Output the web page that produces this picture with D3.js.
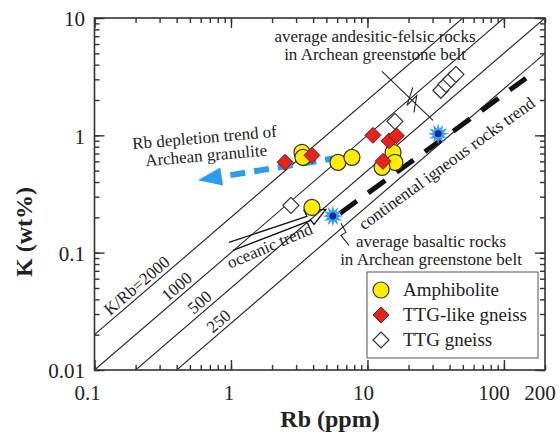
<!DOCTYPE html>
<html>
<head>
<meta charset="utf-8">
<script src="https://cdn.jsdelivr.net/npm/d3@7"></script>
<style>
body { margin: 0; background: #fff; }
text { font-family: "Liberation Serif", "Times New Roman", serif; fill: #222; }
</style>
</head>
<body>
<script>
// samples: Rb (ppm) and K (wt%)
var amphRb = [3.31, 3.37, 6.08, 7.70, 15.4, 15.9, 12.8, 3.92];
var amphK = [0.716, 0.649, 0.589, 0.649, 0.716, 0.589, 0.534, 0.243];
var ttgLikeRb = [2.49, 3.92, 10.97, 14.4, 16.3, 13.0];
var ttgLikeK = [0.589, 0.675, 1.0, 0.898, 0.99, 0.60];
var ttgRb = [2.75, 15.9, 34.5, 37.6, 40.9, 44.5];
var ttgK = [0.253, 1.316, 2.42, 2.72, 3.00, 3.31];
// average greenstone rocks: basaltic, andesitic-felsic
var avgRb = [5.58, 33.0];
var avgK = [0.205, 1.03];

// reference K/Rb ratios
var kRbRatios = [2000, 1000, 500, 250];
var kRbLabels = ["K/Rb=2000", "1000", "500", "250"];
var kRbLabelRb = [0.227, 0.445, 0.656, 0.904];

// trends
var contRb = [6.28, 145];
var contK = [0.216, 3.06];
var deplRb = [6.29, 0.573];
var deplK = [0.649, 0.4135];
var oceanRb = [0.967, 3.60, 3.43, 4.96, 4.06, 3.85, 1.034];
var oceanK = [0.1224, 0.204, 0.2294, 0.2339, 0.1743, 0.1886, 0.1047];
// leaders
var leadAndRb = [12.77, 30.2];
var leadAndK = [3.51, 1.343];
var zigRb = [21.5, 19.5, 23.0, 21.9];
var zigK = [2.566, 1.80, 2.19, 1.571];
var leadBasRb = [6.40, 6.96, 6.40, 7.32];
var leadBasK = [0.178, 0.149, 0.1404, 0.1154];

// axis labels
var xTickVals = [0.1, 1, 10, 100, 200];
var xTickText = ["0.1", "1", "10", "100", "200"];
var yTickVals = [0.01, 0.1, 1, 10];
var yTickText = ["0.01", "0.1", "1", "10"];

var legendNames = ["Amphibolite", "TTG-like gneiss", "TTG gneiss"];

var width = 560, height = 437;
var svg = d3.select("body").append("svg")
    .attr("width", width)
    .attr("height", height);

var x = d3.scaleLog().domain([0.1, 200]).range([94.5, 545]);
var y = d3.scaleLog().domain([0.01, 10]).range([370, 18]);

function pts(a, b) { return a.map(function(d, i){ return [d, b[i]]; }); }
var line = d3.line().x(function(d){ return x(d[0]); }).y(function(d){ return y(d[1]); });

svg.append("clipPath").attr("id", "plot")
    .append("rect")
    .attr("x", x.range()[0]).attr("y", y.range()[1])
    .attr("width", x.range()[1] - x.range()[0])
    .attr("height", y.range()[0] - y.range()[1]);

var plot = svg.append("g").attr("clip-path", "url(#plot)");

// K/Rb lines, K(wt%) = ratio * Rb / 10000
plot.selectAll(".ratio")
    .data(kRbRatios)
    .enter()
        .append("path")
        .attr("d", function(r){ return line([[0.1, r * 0.1 / 1e4], [200, r * 200 / 1e4]]); })
        .attr("fill", "none")
        .attr("stroke", "#222")
        .attr("stroke-width", 1.1);

// K/Rb labels along the lines
var ang = -Math.atan2(y(1) - y(10), x(10) - x(1)) * 180 / Math.PI;
svg.selectAll(".rlab")
    .data(kRbRatios)
    .enter()
        .append("text")
        .attr("transform", function(r, i){
            var rb = kRbLabelRb[i];
            return "translate(" + x(rb) + "," + y(r * rb / 1e4) + ") rotate(" + ang + ")";
        })
        .attr("y", -4)
        .attr("text-anchor", "middle")
        .attr("font-size", 17)
        .text(function(d, i){ return kRbLabels[i]; });

// continental igneous rocks trend
plot.append("path")
    .attr("d", line(pts(contRb, contK)))
    .attr("fill", "none")
    .attr("stroke", "#111")
    .attr("stroke-width", 5)
    .attr("stroke-dasharray", "21,14");

// oceanic trend arrow
plot.append("path")
    .attr("d", line(pts(oceanRb, oceanK)))
    .attr("fill", "none")
    .attr("stroke", "#111")
    .attr("stroke-width", 1.3);

// leader lines
[[leadAndRb, leadAndK], [zigRb, zigK], [leadBasRb, leadBasK]].forEach(function(l){
    plot.append("path")
        .attr("d", line(pts(l[0], l[1])))
        .attr("fill", "none")
        .attr("stroke", "#222")
        .attr("stroke-width", 1.1);
});

// Rb depletion arrow
var p0 = [x(deplRb[0]), y(deplK[0])], p1 = [x(deplRb[1]), y(deplK[1])];
var a = Math.atan2(p1[1] - p0[1], p1[0] - p0[0]);
var headLen = 24, headW = 9;
var base = [p1[0] - headLen * Math.cos(a), p1[1] - headLen * Math.sin(a)];
svg.append("line")
    .attr("x1", p0[0]).attr("y1", p0[1])
    .attr("x2", base[0]).attr("y2", base[1])
    .attr("stroke", "#2b9cf0")
    .attr("stroke-width", 6)
    .attr("stroke-dasharray", "15,9");
svg.append("path")
    .attr("d", "M" + p1 + "L" + [base[0] + headW * Math.sin(a), base[1] - headW * Math.cos(a)] +
        "L" + [base[0] - headW * Math.sin(a), base[1] + headW * Math.cos(a)] + "Z")
    .attr("fill", "#2b9cf0");

// markers
var diamond = "M0,-8L8,0L0,8L-8,0Z";
function starPath(n, r1, r2) {
    var p = [];
    for (var i = 0; i < 2 * n; i++) {
        var r = i % 2 ? r2 : r1, t = Math.PI * i / n - Math.PI / 2;
        p.push([r * Math.cos(t), r * Math.sin(t)]);
    }
    return "M" + p.join("L") + "Z";
}

svg.selectAll(".ttg")
    .data(pts(ttgRb, ttgK))
    .enter()
        .append("path")
        .attr("d", diamond)
        .attr("transform", function(d){ return "translate(" + x(d[0]) + "," + y(d[1]) + ")"; })
        .attr("fill", "#fff")
        .attr("stroke", "#333")
        .attr("stroke-width", 1.2);

svg.selectAll(".amph")
    .data(pts(amphRb, amphK))
    .enter()
        .append("circle")
        .attr("cx", function(d){ return x(d[0]); })
        .attr("cy", function(d){ return y(d[1]); })
        .attr("r", 8)
        .attr("fill", "#ffee00")
        .attr("stroke", "#333")
        .attr("stroke-width", 1.2);

svg.selectAll(".ttglike")
    .data(pts(ttgLikeRb, ttgLikeK))
    .enter()
        .append("path")
        .attr("d", diamond)
        .attr("transform", function(d){ return "translate(" + x(d[0]) + "," + y(d[1]) + ")"; })
        .attr("fill", "#e3231c")
        .attr("stroke", "#7a1a14")
        .attr("stroke-width", 1);

var stars = svg.selectAll(".avg")
    .data(pts(avgRb, avgK))
    .enter()
        .append("g")
        .attr("transform", function(d){ return "translate(" + x(d[0]) + "," + y(d[1]) + ")"; });
stars.append("path").attr("d", starPath(12, 10.5, 5.5)).attr("fill", "#3aa2f0");
stars.append("circle").attr("r", 3.5).attr("fill", "#1a2a9c");

// axes: ticks inside on all four sides
function ticks(axis, tr, vals, size) {
    svg.append("g")
        .attr("transform", tr)
        .call(axis.tickValues(vals).tickSize(-size).tickSizeOuter(0).tickFormat(""))
        .call(function(g){ g.select(".domain").remove(); })
        .selectAll("line")
        .attr("stroke", "#333")
        .attr("stroke-width", 1.4);
}
var xMajor = [0.1, 1, 10, 100];
ticks(d3.axisBottom(x), "translate(0,370)", x.ticks(), 5);
ticks(d3.axisBottom(x), "translate(0,370)", xMajor, 10);
ticks(d3.axisTop(x), "translate(0,18)", x.ticks(), 5);
ticks(d3.axisTop(x), "translate(0,18)", xMajor, 10);
ticks(d3.axisLeft(y), "translate(94.5,0)", y.ticks(), 5);
ticks(d3.axisLeft(y), "translate(94.5,0)", yTickVals, 10);
ticks(d3.axisRight(y), "translate(545,0)", y.ticks(), 5);
ticks(d3.axisRight(y), "translate(545,0)", yTickVals, 10);

svg.append("rect")
    .attr("x", x.range()[0]).attr("y", y.range()[1])
    .attr("width", x.range()[1] - x.range()[0])
    .attr("height", y.range()[0] - y.range()[1])
    .attr("fill", "none")
    .attr("stroke", "#333")
    .attr("stroke-width", 1.6);

// tick labels
var xShift = [-7, -2, -4, -10, -5];
svg.selectAll(".xl")
    .data(xTickVals)
    .enter()
        .append("text")
        .attr("x", function(d, i){ return x(d) + xShift[i]; })
        .attr("y", 400)
        .attr("text-anchor", "middle")
        .attr("font-size", 21)
        .text(function(d, i){ return xTickText[i]; });
svg.selectAll(".yl")
    .data(yTickVals)
    .enter()
        .append("text")
        .attr("x", 85)
        .attr("y", function(d){ return y(d) + 1; })
        .attr("dy", "0.35em")
        .attr("text-anchor", "end")
        .attr("font-size", 21)
        .text(function(d, i){ return yTickText[i]; });

// axis titles
svg.append("text")
    .attr("x", 330).attr("y", 427)
    .attr("text-anchor", "middle")
    .attr("font-size", 24)
    .attr("font-weight", "bold")
    .text("Rb (ppm)");
svg.append("text")
    .attr("transform", "translate(32,232) rotate(-90)")
    .attr("text-anchor", "middle")
    .attr("font-size", 24)
    .attr("font-weight", "bold")
    .text("K (wt%)");

// annotations
function label(lines, cx, cy, rot, dy) {
    var t = svg.append("text")
        .attr("transform", "translate(" + cx + "," + cy + ") rotate(" + rot + ")")
        .attr("text-anchor", "middle")
        .attr("font-size", 17);
    lines.forEach(function(s, i){
        t.append("tspan").attr("x", 0).attr("y", i * dy).text(s);
    });
}
label(["average andesitic-felsic rocks", "in Archean greenstone belt"], 375, 42, 0, 18);
label(["average basaltic rocks", "in Archean greenstone belt"], 431, 247, 0, 18);
label(["Rb depletion trend of", "Archean granulite"], 205, 143, -5, 18);
label(["continental igneous rocks trend"], 450, 168, -36, 0);
label(["oceanic trend"], 272, 251, -23, 0);

// legend
var lg = svg.append("g");
lg.append("rect")
    .attr("x", 367).attr("y", 272)
    .attr("width", 171).attr("height", 86)
    .attr("fill", "#fff")
    .attr("stroke", "#555")
    .attr("stroke-width", 1);
var items = lg.selectAll(".li")
    .data(legendNames)
    .enter()
        .append("g")
        .attr("transform", function(d, i){ return "translate(381," + (290 + i * 25) + ")"; });
items.filter(function(d, i){ return i === 0; }).append("circle")
    .attr("r", 8).attr("fill", "#ffee00").attr("stroke", "#333").attr("stroke-width", 1.2);
items.filter(function(d, i){ return i === 1; }).append("path")
    .attr("d", diamond).attr("fill", "#e3231c").attr("stroke", "#7a1a14");
items.filter(function(d, i){ return i === 2; }).append("path")
    .attr("d", diamond).attr("fill", "#fff").attr("stroke", "#333").attr("stroke-width", 1.2);
items.append("text")
    .attr("x", 22)
    .attr("y", 6)
    .attr("font-size", 19)
    .text(function(d){ return d; });
</script>
</body>
</html>
